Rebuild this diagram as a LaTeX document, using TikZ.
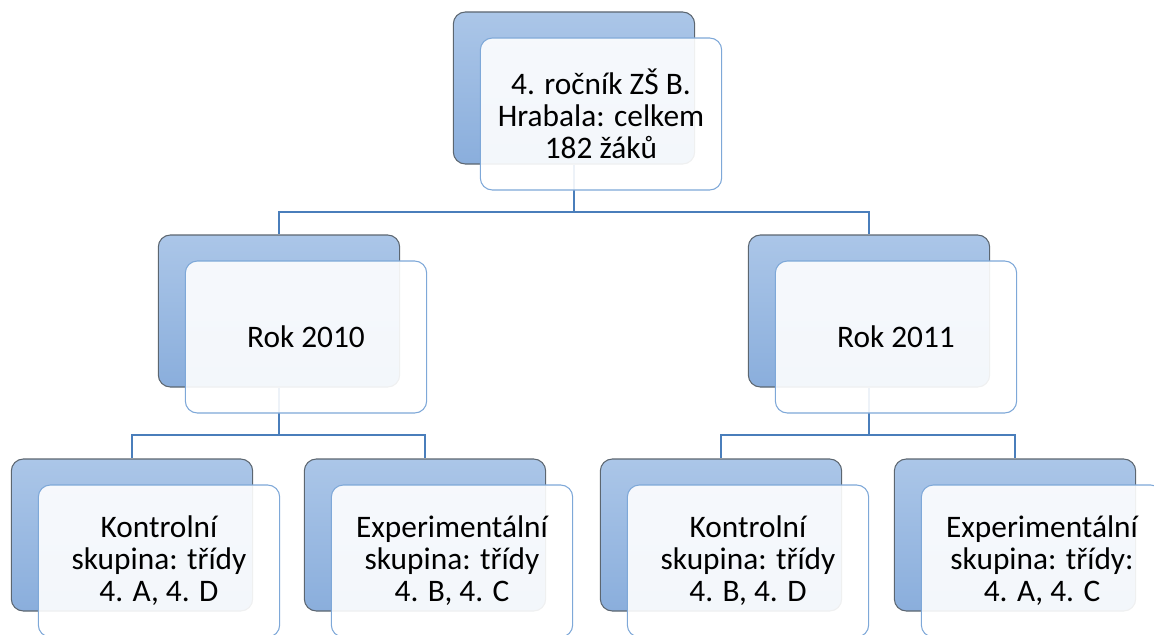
\documentclass[tikz,border=0pt]{standalone}
\usepackage{fontspec}
\setmainfont{Carlito}

\definecolor{boxtop}{HTML}{ABC6E8}
\definecolor{boxbot}{HTML}{8AAEDC}
\definecolor{boxedge}{HTML}{5C6670}
\definecolor{frontedge}{HTML}{7EA8D8}
\definecolor{linkblue}{HTML}{4A7EBB}

\tikzset{
  backbox/.style={draw=boxedge, top color=boxtop, bottom color=boxbot,
    rounded corners=9pt, minimum width=181pt, minimum height=114pt,
    inner sep=0pt, line width=0.8pt},
  frontbox/.style={draw=frontedge, fill=white, fill opacity=0.9, text opacity=1,
    rounded corners=9pt, minimum width=181pt, minimum height=114pt,
    inner sep=0pt, align=center, line width=0.8pt,
    font=\fontsize{23.5}{24}\selectfont},
  link/.style={draw=linkblue, line width=1.5pt},
}

\begin{document}
\begin{tikzpicture}[x=0.75pt, y=-0.75pt]
  \clip (0,0) rectangle (1154,635);

  % Back boxes
  \node[backbox] (topB) at (574,88) {};
  \node[backbox] (lftB) at (279,311) {};
  \node[backbox] (rgtB) at (869,311) {};
  \node[backbox] (lkB) at (132,535) {};
  \node[backbox] (leB) at (425,535) {};
  \node[backbox] (rkB) at (721,535) {};
  \node[backbox] (reB) at (1015,535) {};

  % Connectors
  \draw[link] (topB.south) -- ++(0,47) -| (lftB.north);
  \draw[link] (topB.south) -- ++(0,47) -| (rgtB.north);
  \draw[link] (lftB.south) -- ++(0,47) -| (lkB.north);
  \draw[link] (lftB.south) -- ++(0,47) -| (leB.north);
  \draw[link] (rgtB.south) -- ++(0,47) -| (rkB.north);
  \draw[link] (rgtB.south) -- ++(0,47) -| (reB.north);

  % Front boxes with text
  \node[frontbox] (topF) at ([shift={(27,26)}]topB) {4. ročník ZŠ B.\\Hrabala: celkem\\182 žáků};
  \node[frontbox] (lftF) at ([shift={(27,26)}]lftB) {Rok 2010};
  \node[frontbox] (rgtF) at ([shift={(27,26)}]rgtB) {Rok 2011};
  \node[frontbox] (lkF) at ([shift={(27,26)}]lkB) {Kontrolní\\skupina: třídy\\4. A, 4. D};
  \node[frontbox] (leF) at ([shift={(27,26)}]leB) {Experimentální\\skupina: třídy\\4. B, 4. C};
  \node[frontbox] (rkF) at ([shift={(27,26)}]rkB) {Kontrolní\\skupina: třídy\\4. B, 4. D};
  \node[frontbox] (reF) at ([shift={(27,26)}]reB) {Experimentální\\skupina: třídy:\\4. A, 4. C};
\end{tikzpicture}
\end{document}
